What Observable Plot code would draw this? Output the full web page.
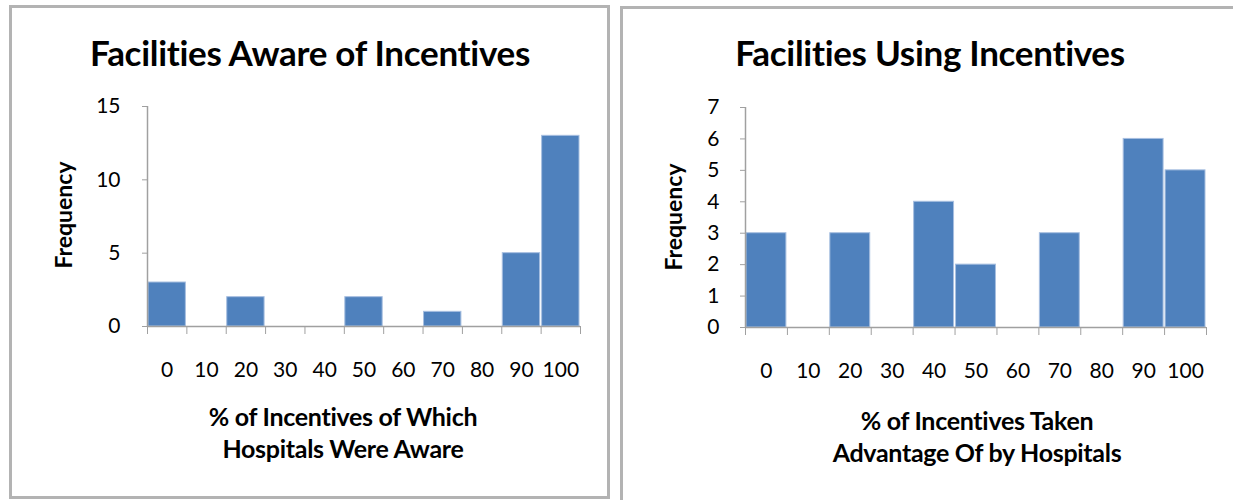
<!DOCTYPE html>
<html>
<head>
<meta charset="utf-8">
<script src="https://cdn.jsdelivr.net/npm/d3@7"></script>
<script src="https://cdn.jsdelivr.net/npm/@observablehq/plot@0.6"></script>
<style>
  html, body { margin: 0; padding: 0; background: #fff; }
  #root { position: relative; width: 1233px; height: 500px; overflow: hidden; background: #fff; font-family: Lato, "Open Sans", sans-serif; color: #000; }
  .panel { position: absolute; border: 3px solid #b3b3b3; box-sizing: border-box; }
  .title { position: absolute; text-align: center; font-weight: bold; font-size: 35px; line-height: 34px; white-space: nowrap; letter-spacing: -0.3px; }
  .xtitle { position: absolute; text-align: center; font-weight: bold; font-size: 25px; line-height: 32px; white-space: nowrap; letter-spacing: -0.3px; }
  .ytitle { position: absolute; font-weight: bold; font-size: 23px; line-height: 23px; white-space: nowrap; transform: translate(-50%, -50%) rotate(-90deg); }
  .plot { position: absolute; }
</style>
</head>
<body>
<div id="root"></div>
<script>
// ---- data ----
const bins = [0, 10, 20, 30, 40, 50, 60, 70, 80, 90, 100];
const awareCounts = [3, 0, 2, 0, 0, 2, 0, 1, 0, 5, 13];
const usingCounts = [3, 0, 3, 0, 4, 2, 0, 3, 0, 6, 5];
const awareYTicks = [0, 5, 10, 15];
const usingYTicks = [0, 1, 2, 3, 4, 5, 6, 7];
const titles = ["Facilities Aware of Incentives", "Facilities Using Incentives"];
const xTitles = [["% of Incentives of Which", "Hospitals Were Aware"], ["% of Incentives Taken", "Advantage Of by Hospitals"]];
const yTitle = "Frequency";

const root = document.getElementById("root");
const barFill = "#4f81bd";
const axisGray = "#a0a0a0";

function el(cls, styles, html) {
  const d = document.createElement("div");
  d.className = cls;
  Object.assign(d.style, styles);
  if (html != null) d.innerHTML = html;
  root.appendChild(d);
  return d;
}

function makeChart(counts, yTicks, cfg) {
  const data = bins.map((b, i) => ({pct: b, count: counts[i]}));
  const yMax = yTicks[yTicks.length - 1];
  const half = (bins[1] - bins[0]) / 2;
  const edges = [...bins.map(b => b - half), bins[bins.length - 1] + half];
  return Plot.plot({
    width: cfg.width,
    height: cfg.height,
    marginLeft: cfg.marginLeft,
    marginRight: cfg.marginRight,
    marginTop: cfg.marginTop,
    marginBottom: cfg.marginBottom,
    style: {fontFamily: "Lato, 'Open Sans', sans-serif", fontSize: "21px", color: "#000", background: "transparent", overflow: "visible"},
    x: {type: "linear", domain: [edges[0], edges[edges.length - 1]], label: null},
    y: {domain: [0, yMax], label: null},
    marks: [
      Plot.rectY(data.filter(d => d.count > 0), {
        x1: d => d.pct - half, x2: d => d.pct + half, y: "count",
        fill: barFill, stroke: "#a7bfe0", strokeWidth: 1, insetLeft: 1, insetRight: 1
      }),
      Plot.ruleX([edges[0]], {y1: 0, y2: yMax, stroke: axisGray, strokeWidth: 1.5}),
      Plot.ruleY([0], {stroke: axisGray, strokeWidth: 1.5}),
      Plot.axisY({ticks: yTicks, tickSize: 5, tickPadding: cfg.yPad, tickFormat: d3.format("d"), stroke: axisGray, fill: "#000", label: null}),
      Plot.axisX({ticks: edges, tickSize: 8, tickFormat: () => "", stroke: axisGray, label: null}),
      Plot.axisX({ticks: bins, tickSize: 0, tickPadding: 36, tickFormat: d3.format("d"), fill: "#000", label: null})
    ]
  });
}

// panels
el("panel", {left: "9px", top: "5px", width: "601px", height: "494px"});
el("panel", {left: "620px", top: "6px", width: "640px", height: "520px"});

// titles
el("title", {left: "12px", width: "596px", top: "35px"}, titles[0]);
el("title", {left: "630px", width: "600px", top: "35px"}, titles[1]);

// left chart
const c1 = makeChart(awareCounts, awareYTicks, {width: 608, height: 300, marginLeft: 147, marginRight: 28, marginTop: 16, marginBottom: 64, yPad: 22});
const w1 = el("plot", {left: "0px", top: "90px"});
w1.appendChild(c1);

// right chart
const c2 = makeChart(usingCounts, usingYTicks, {width: 613, height: 300, marginLeft: 125, marginRight: 27, marginTop: 17, marginBottom: 63, yPad: 21});
const w2 = el("plot", {left: "620px", top: "90px"});
w2.appendChild(c2);

// y titles
el("ytitle", {left: "63px", top: "215px"}, yTitle);
el("ytitle", {left: "673px", top: "217px"}, yTitle);

// x titles
el("xtitle", {left: "143px", width: "400px", top: "400px"}, xTitles[0].join("<br>"));
el("xtitle", {left: "777px", width: "400px", top: "404px"}, xTitles[1].join("<br>"));
</script>
</body>
</html>
